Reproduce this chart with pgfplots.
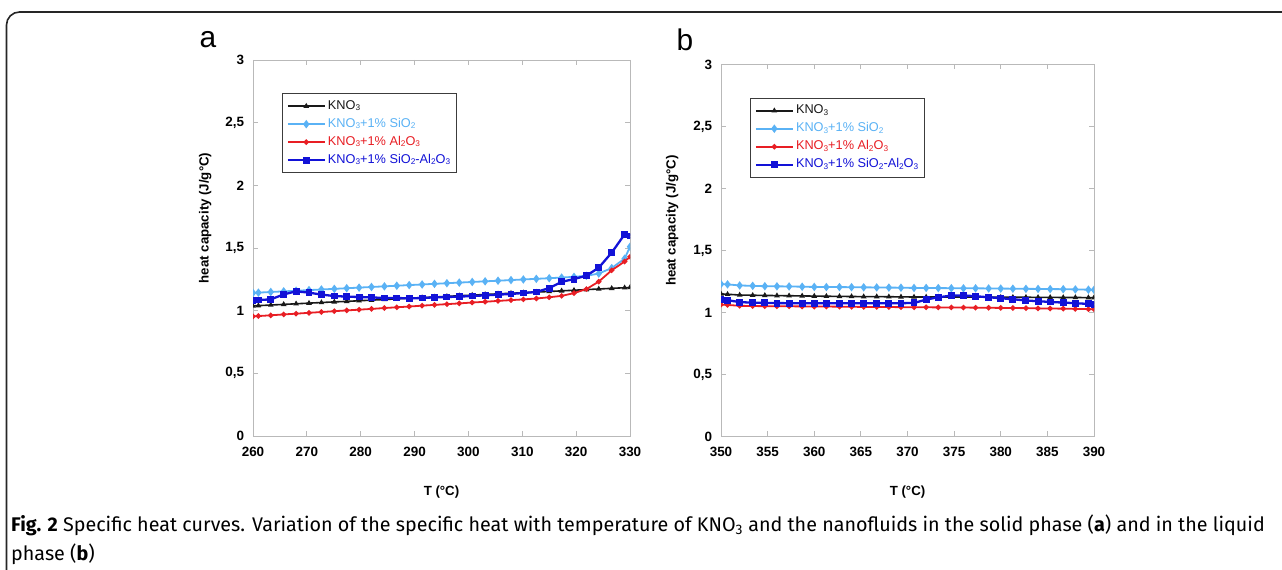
\documentclass[border=0pt]{standalone}
\usepackage{pgfplots}
\pgfplotsset{compat=1.18}
\usepackage{pgfplotstable}
\usepackage{fontspec}
\setmainfont{Liberation Sans}
\newfontfamily\capfont{Fira Sans}
\definecolor{cBlack}{RGB}{25,25,25}
\definecolor{cLight}{RGB}{90,178,245}
\definecolor{cRed}{RGB}{232,30,36}
\definecolor{cBlue}{RGB}{18,18,215}
\definecolor{axgray}{RGB}{185,185,185}
\definecolor{legdraw}{RGB}{60,60,60}
\newcommand{\sub}[1]{\raisebox{-0.2ex}{\fontsize{8.3}{8}\selectfont #1}}

\pgfplotstableread{
T K S A B
260 1.038 1.142 0.955 1.083
261.0 1.040 1.144 0.957 1.085
263.3 1.045 1.149 0.963 1.090
265.7 1.050 1.154 0.970 1.130
268.0 1.055 1.159 0.976 1.154
270.4 1.060 1.164 0.983 1.144
272.7 1.065 1.169 0.989 1.128
275.1 1.070 1.174 0.996 1.117
277.4 1.074 1.179 1.002 1.112
279.7 1.079 1.184 1.008 1.109
282.0 1.084 1.189 1.014 1.106
284.4 1.089 1.194 1.021 1.101
286.7 1.094 1.199 1.027 1.101
289.0 1.099 1.204 1.033 1.098
291.4 1.104 1.209 1.040 1.101
293.7 1.109 1.214 1.046 1.106
296.0 1.114 1.219 1.052 1.109
298.3 1.119 1.224 1.058 1.112
300.7 1.124 1.229 1.065 1.117
303.1 1.129 1.234 1.071 1.122
305.5 1.134 1.239 1.078 1.128
307.9 1.139 1.244 1.084 1.133
310.2 1.143 1.249 1.090 1.141
312.6 1.148 1.254 1.097 1.149
315.0 1.153 1.259 1.107 1.180
317.3 1.158 1.264 1.118 1.230
319.6 1.163 1.270 1.140 1.252
321.9 1.168 1.278 1.172 1.279
324.2 1.173 1.296 1.232 1.343
326.6 1.178 1.340 1.322 1.463
329.0 1.183 1.415 1.392 1.609
330 1.185 1.510 1.430 1.596
}\tabA

\pgfplotstableread{
T K S A B
350 1.150 1.229 1.063 1.102
350.7 1.147 1.227 1.061 1.099
352.0 1.141 1.218 1.054 1.084
353.4 1.139 1.215 1.052 1.079
354.7 1.138 1.212 1.051 1.077
356.0 1.136 1.211 1.050 1.076
357.3 1.135 1.210 1.050 1.075
358.7 1.134 1.208 1.049 1.075
360.0 1.132 1.206 1.048 1.075
361.3 1.131 1.205 1.048 1.075
362.7 1.130 1.205 1.047 1.075
364.0 1.129 1.204 1.046 1.075
365.3 1.128 1.203 1.045 1.075
366.7 1.128 1.202 1.045 1.075
368.0 1.127 1.201 1.044 1.075
369.3 1.126 1.200 1.043 1.075
370.7 1.125 1.198 1.042 1.077
372.0 1.125 1.198 1.042 1.104
373.3 1.125 1.197 1.041 1.123
374.7 1.125 1.196 1.041 1.136
376.0 1.125 1.195 1.040 1.138
377.3 1.124 1.195 1.039 1.131
378.7 1.124 1.194 1.038 1.123
380.0 1.123 1.193 1.037 1.115
381.3 1.123 1.192 1.036 1.107
382.7 1.123 1.191 1.035 1.097
384.0 1.122 1.190 1.033 1.091
385.3 1.122 1.189 1.032 1.085
386.7 1.121 1.188 1.031 1.080
388.0 1.121 1.186 1.029 1.075
389.4 1.120 1.184 1.027 1.069
390 1.120 1.183 1.026 1.066
}\tabB

\pgfplotsset{
  panel/.style={
    anchor=south west, scale only axis,
    ymin=0, ymax=3,
    ytick={0,0.5,1,1.5,2,2.5,3},
    yticklabels={0,{0,5},1,{1,5},2,{2,5},3},
    tick align=inside, major tick length=5bp,
    axis line style={draw=axgray, line width=0.9bp},
    tick style={draw=axgray, line width=0.8bp},
    ticklabel style={font=\bfseries\fontsize{13.5}{14}\selectfont},
    xticklabel style={yshift=-7.5bp},
    yticklabel style={xshift=-5.5bp},
    xlabel={\bfseries T (°C)},
    ylabel={\bfseries heat capacity (J/g°C)},
    label style={font=\bfseries\fontsize{13.3}{14}\selectfont},
    clip marker paths=true,
    legend cell align=left,
    legend image code/.code={\draw[mark repeat=2,mark phase=2,##1] plot coordinates {(0bp,0bp) (18.5bp,0bp) (37bp,0bp)};},
    legend style={anchor=north west, draw=legdraw, line width=1.2bp, fill=white,
      inner xsep=4bp, inner ysep=3.5bp, font=\fontsize{12.8}{14}\selectfont,
      nodes={inner xsep=2bp, inner ysep=3bp, text height=9bp, text depth=3bp}},
  },
  sK/.style={color=cBlack, line width=1.6bp, mark=triangle*, mark size=1.7bp, mark options={solid}},
  sS/.style={color=cLight, line width=1.8bp, mark=diamond*, mark size=2.8bp},
  sA/.style={color=cRed, line width=1.8bp, mark=*, mark size=1.7bp},
  sB/.style={color=cBlue, line width=2.3bp, mark=square*, mark size=2.3bp},
}

\begin{document}
\begin{tikzpicture}
\useasboundingbox (0,0) rectangle (1282bp,570bp);
\clip (0,0) rectangle (1282bp,570bp);
\draw[line width=1.6bp, black!85, rounded corners=13bp] (6.5bp,-10bp) -- (6.5bp,558bp) -- (1300bp,558bp);

\begin{axis}[panel, at={(253bp,134bp)}, width=377bp, height=376bp,
  xmin=260, xmax=330, xtick={260,270,280,290,300,310,320,330},
  xticklabels={260,270,280,290,300,310,320,330},
  xlabel style={at={(axis description cs:0.5,-0.149)}, anchor=center},
  ylabel style={at={(axis description cs:-0.127,0.58)}, anchor=center},
  legend style={at={(axis description cs:0.077,0.912)}}]
\addplot[sK] table[x=T,y=K]{\tabA};
\addlegendentry{\textcolor{cBlack}{KNO\sub3}}
\addplot[sS] table[x=T,y=S]{\tabA};
\addlegendentry{\textcolor{cLight}{KNO\sub3+1\% SiO\sub2}}
\addplot[sA] table[x=T,y=A]{\tabA};
\addlegendentry{\textcolor{cRed}{KNO\sub3+1\% Al\sub2O\sub3}}
\addplot[sB] table[x=T,y=B]{\tabA};
\addlegendentry{\textcolor{cBlue}{KNO\sub3+1\% SiO\sub2-Al\sub2O\sub3}}
\end{axis}

\begin{axis}[panel, at={(721bp,133.5bp)}, width=373bp, height=372bp,
  xmin=350, xmax=390, xtick={350,355,360,365,370,375,380,385,390},
  xticklabels={350,355,360,365,370,375,380,385,390},
  xlabel style={at={(axis description cs:0.5,-0.149)}, anchor=center},
  ylabel style={at={(axis description cs:-0.131,0.58)}, anchor=center},
  legend style={at={(axis description cs:0.078,0.911)}}]
\addplot[sK] table[x=T,y=K]{\tabB};
\addlegendentry{\textcolor{cBlack}{KNO\sub3}}
\addplot[sS] table[x=T,y=S]{\tabB};
\addlegendentry{\textcolor{cLight}{KNO\sub3+1\% SiO\sub2}}
\addplot[sA] table[x=T,y=A]{\tabB};
\addlegendentry{\textcolor{cRed}{KNO\sub3+1\% Al\sub2O\sub3}}
\addplot[sB] table[x=T,y=B]{\tabB};
\addlegendentry{\textcolor{cBlue}{KNO\sub3+1\% SiO\sub2-Al\sub2O\sub3}}
\end{axis}

\node[font=\fontsize{30}{32}\selectfont, anchor=center] at (208bp,530bp) {a};
\node[font=\fontsize{30}{32}\selectfont, anchor=center] at (685bp,530bp) {b};

\node[font=\capfont\fontsize{19.8}{22}\selectfont, anchor=base west, inner sep=0pt] at (11bp,38.5bp)
  {\textbf{Fig. 2} Specific heat curves. Variation of the specific heat with temperature of KNO\textsubscript{3} and the nanofluids in the solid phase (\textbf{a}) and in the liquid};
\node[font=\capfont\fontsize{19.8}{22}\selectfont, anchor=base west, inner sep=0pt] at (11bp,10bp)
  {phase (\textbf{b})};
\end{tikzpicture}
\end{document}
